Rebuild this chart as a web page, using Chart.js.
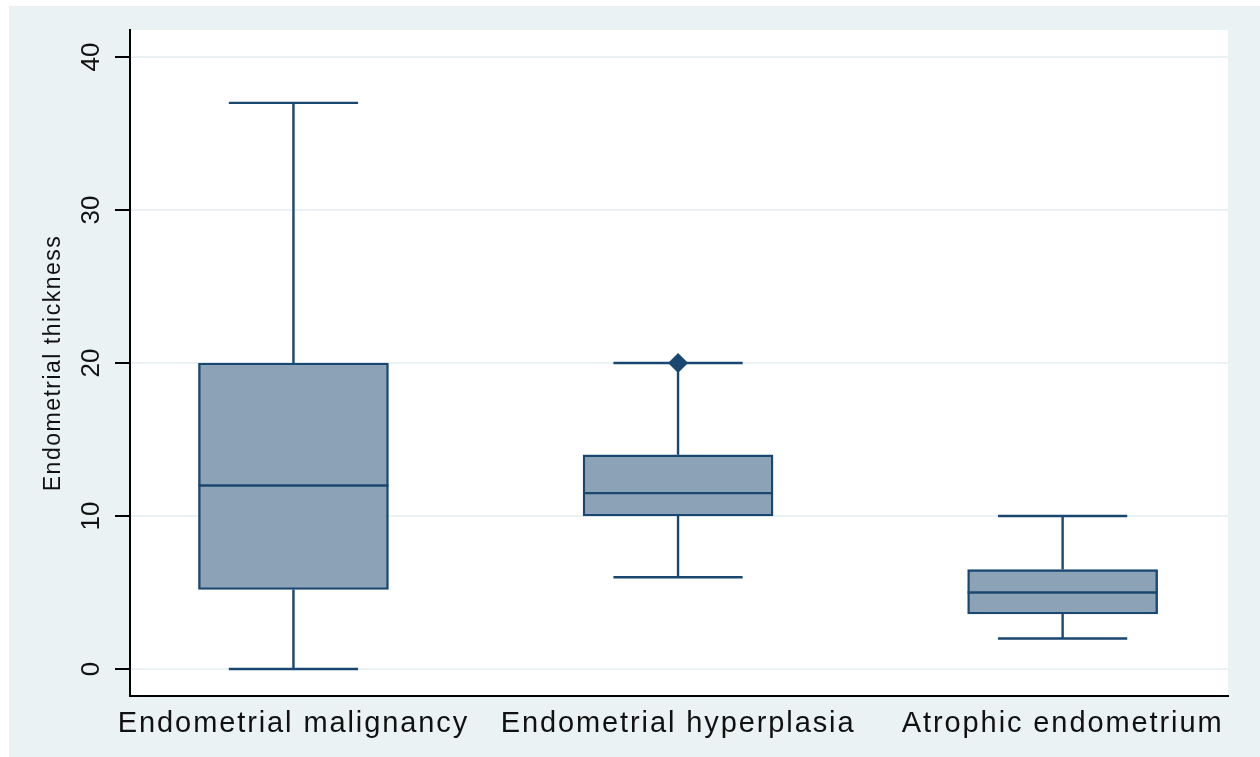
<!DOCTYPE html>
<html lang="en">
<head>
  <meta charset="UTF-8" />
  <title>Endometrial thickness by group</title>
  <script src="https://cdn.jsdelivr.net/npm/chart.js"></script>
  <style>
    body { margin: 0; background: #fff; }
    canvas { display: block; }
  </style>
</head>
<body>
  <canvas id="boxChart" width="1260" height="757"></canvas>

  <script>
    // box plot values
    const groups = ['Endometrial malignancy', 'Endometrial hyperplasia', 'Atrophic endometrium'];
    const lowerWhisker = [0, 6, 2];
    const q1 = [5.2, 10, 3.6];
    const median = [12, 11.5, 5];
    const q3 = [20, 14, 6.5];
    const upperWhisker = [37, 20, 10];
    const outliers = [[], [20], []];
    const yTicks = [0, 10, 20, 30, 40];
    const yTitle = 'Endometrial thickness';

    const NAVY = '#1a476f';
    const FILL = '#8ca2b7';
    const BG = '#eaf2f3';
    const TEXT = '#111';
    const FONT = '"Liberation Sans", Arial, sans-serif';
    const CAP_HALF = 0.168; // whisker cap half width, x units
    const LINE_W = 2.4;

    // background: light outer region, white plot area
    const bgPlugin = {
      id: 'stataBg',
      beforeDraw(chart) {
        const { ctx, chartArea: a } = chart;
        ctx.save();
        ctx.fillStyle = '#fff';
        ctx.fillRect(0, 0, chart.width, chart.height);
        ctx.fillStyle = BG;
        ctx.fillRect(9, 6, chart.width - 9, chart.height - 6);
        ctx.fillStyle = '#fff';
        ctx.fillRect(a.left, a.top, a.right - a.left, a.bottom - a.top);
        ctx.restore();
        ctx.letterSpacing = '1.9px';
      }
    };

    // whiskers + caps behind the boxes, medians on top
    const whiskerPlugin = {
      id: 'whiskers',
      beforeDatasetsDraw(chart) {
        const { ctx, scales: { x, y } } = chart;
        ctx.save();
        ctx.strokeStyle = NAVY;
        ctx.lineWidth = LINE_W;
        groups.forEach((g, i) => {
          const cx = x.getPixelForValue(i + 1);
          const l = x.getPixelForValue(i + 1 - CAP_HALF);
          const r = x.getPixelForValue(i + 1 + CAP_HALF);
          const yHi = y.getPixelForValue(upperWhisker[i]);
          const yLo = y.getPixelForValue(lowerWhisker[i]);
          ctx.beginPath();
          ctx.moveTo(cx, y.getPixelForValue(q3[i]));
          ctx.lineTo(cx, yHi);
          ctx.moveTo(cx, y.getPixelForValue(q1[i]));
          ctx.lineTo(cx, yLo);
          ctx.moveTo(l, yHi);
          ctx.lineTo(r, yHi);
          ctx.moveTo(l, yLo);
          ctx.lineTo(r, yLo);
          ctx.stroke();
        });
        ctx.restore();
      },
      afterDatasetsDraw(chart) {
        const { ctx, scales: { x, y } } = chart;
        const half = chart.getDatasetMeta(0).data[0].width / 2;
        ctx.save();
        ctx.strokeStyle = NAVY;
        ctx.lineWidth = LINE_W;
        groups.forEach((g, i) => {
          const cx = x.getPixelForValue(i + 1);
          const ym = y.getPixelForValue(median[i]);
          ctx.beginPath();
          ctx.moveTo(cx - half, ym);
          ctx.lineTo(cx + half, ym);
          ctx.stroke();
        });
        ctx.restore();
      }
    };

    // rotated y tick labels and axis title
    const yTextPlugin = {
      id: 'yText',
      afterDraw(chart) {
        const { ctx, scales: { y }, chartArea: a } = chart;
        ctx.save();
        ctx.fillStyle = TEXT;
        ctx.textAlign = 'center';
        ctx.textBaseline = 'middle';
        ctx.letterSpacing = '0px';
        ctx.font = '26px ' + FONT;
        yTicks.forEach(v => {
          ctx.save();
          ctx.translate(92, y.getPixelForValue(v));
          ctx.rotate(-Math.PI / 2);
          ctx.fillText(String(v), 0, 0);
          ctx.restore();
        });
        ctx.font = '23px ' + FONT;
        ctx.letterSpacing = '1.5px';
        ctx.translate(54, (a.top + a.bottom) / 2);
        ctx.rotate(-Math.PI / 2);
        ctx.fillText(yTitle, 0, 0);
        ctx.restore();
      }
    };

    const boxData = groups.map((g, i) => ({ x: i + 1, y: [q1[i], q3[i]] }));
    const outlierData = [];
    outliers.forEach((list, i) => list.forEach(v => outlierData.push({ x: i + 1, y: v })));

    new Chart(document.getElementById('boxChart'), {
      type: 'bar',
      data: {
        datasets: [
          {
            label: 'IQR',
            data: boxData,
            backgroundColor: FILL,
            borderColor: NAVY,
            borderWidth: LINE_W,
            borderSkipped: false,
            barThickness: 190,
            grouped: false
          },
          {
            type: 'scatter',
            label: 'Outliers',
            data: outlierData,
            pointStyle: 'rectRot',
            radius: 10,
            backgroundColor: NAVY,
            borderWidth: 0
          }
        ]
      },
      options: {
        responsive: false,
        animation: false,
        layout: { padding: { top: 30, right: 32, left: 0, bottom: 0 } },
        plugins: {
          legend: { display: false },
          tooltip: { enabled: false }
        },
        scales: {
          x: {
            type: 'linear',
            offset: false,
            min: 0.575,
            max: 3.43,
            afterBuildTicks: ax => { ax.ticks = groups.map((g, i) => ({ value: i + 1 })); },
            afterFit: ax => { ax.height = 61; },
            grid: { display: false, drawTicks: false, offset: false },
            border: { display: true, color: '#000', width: 2 },
            ticks: {
              callback: (v, i) => groups[i],
              font: { family: FONT, size: 29 },
              color: TEXT,
              maxRotation: 0,
              minRotation: 0,
              autoSkip: false,
              padding: 11
            }
          },
          y: {
            min: -1.76,
            max: 41.76,
            afterBuildTicks: ax => { ax.ticks = yTicks.map(v => ({ value: v })); },
            afterFit: ax => { ax.width = 130; },
            grid: { color: BG, lineWidth: 2, drawTicks: true, tickLength: 15, tickColor: '#000', tickWidth: 2 },
            border: { color: '#000', width: 2 },
            ticks: { display: false }
          }
        }
      },
      plugins: [bgPlugin, whiskerPlugin, yTextPlugin]
    });
  </script>
</body>
</html>
